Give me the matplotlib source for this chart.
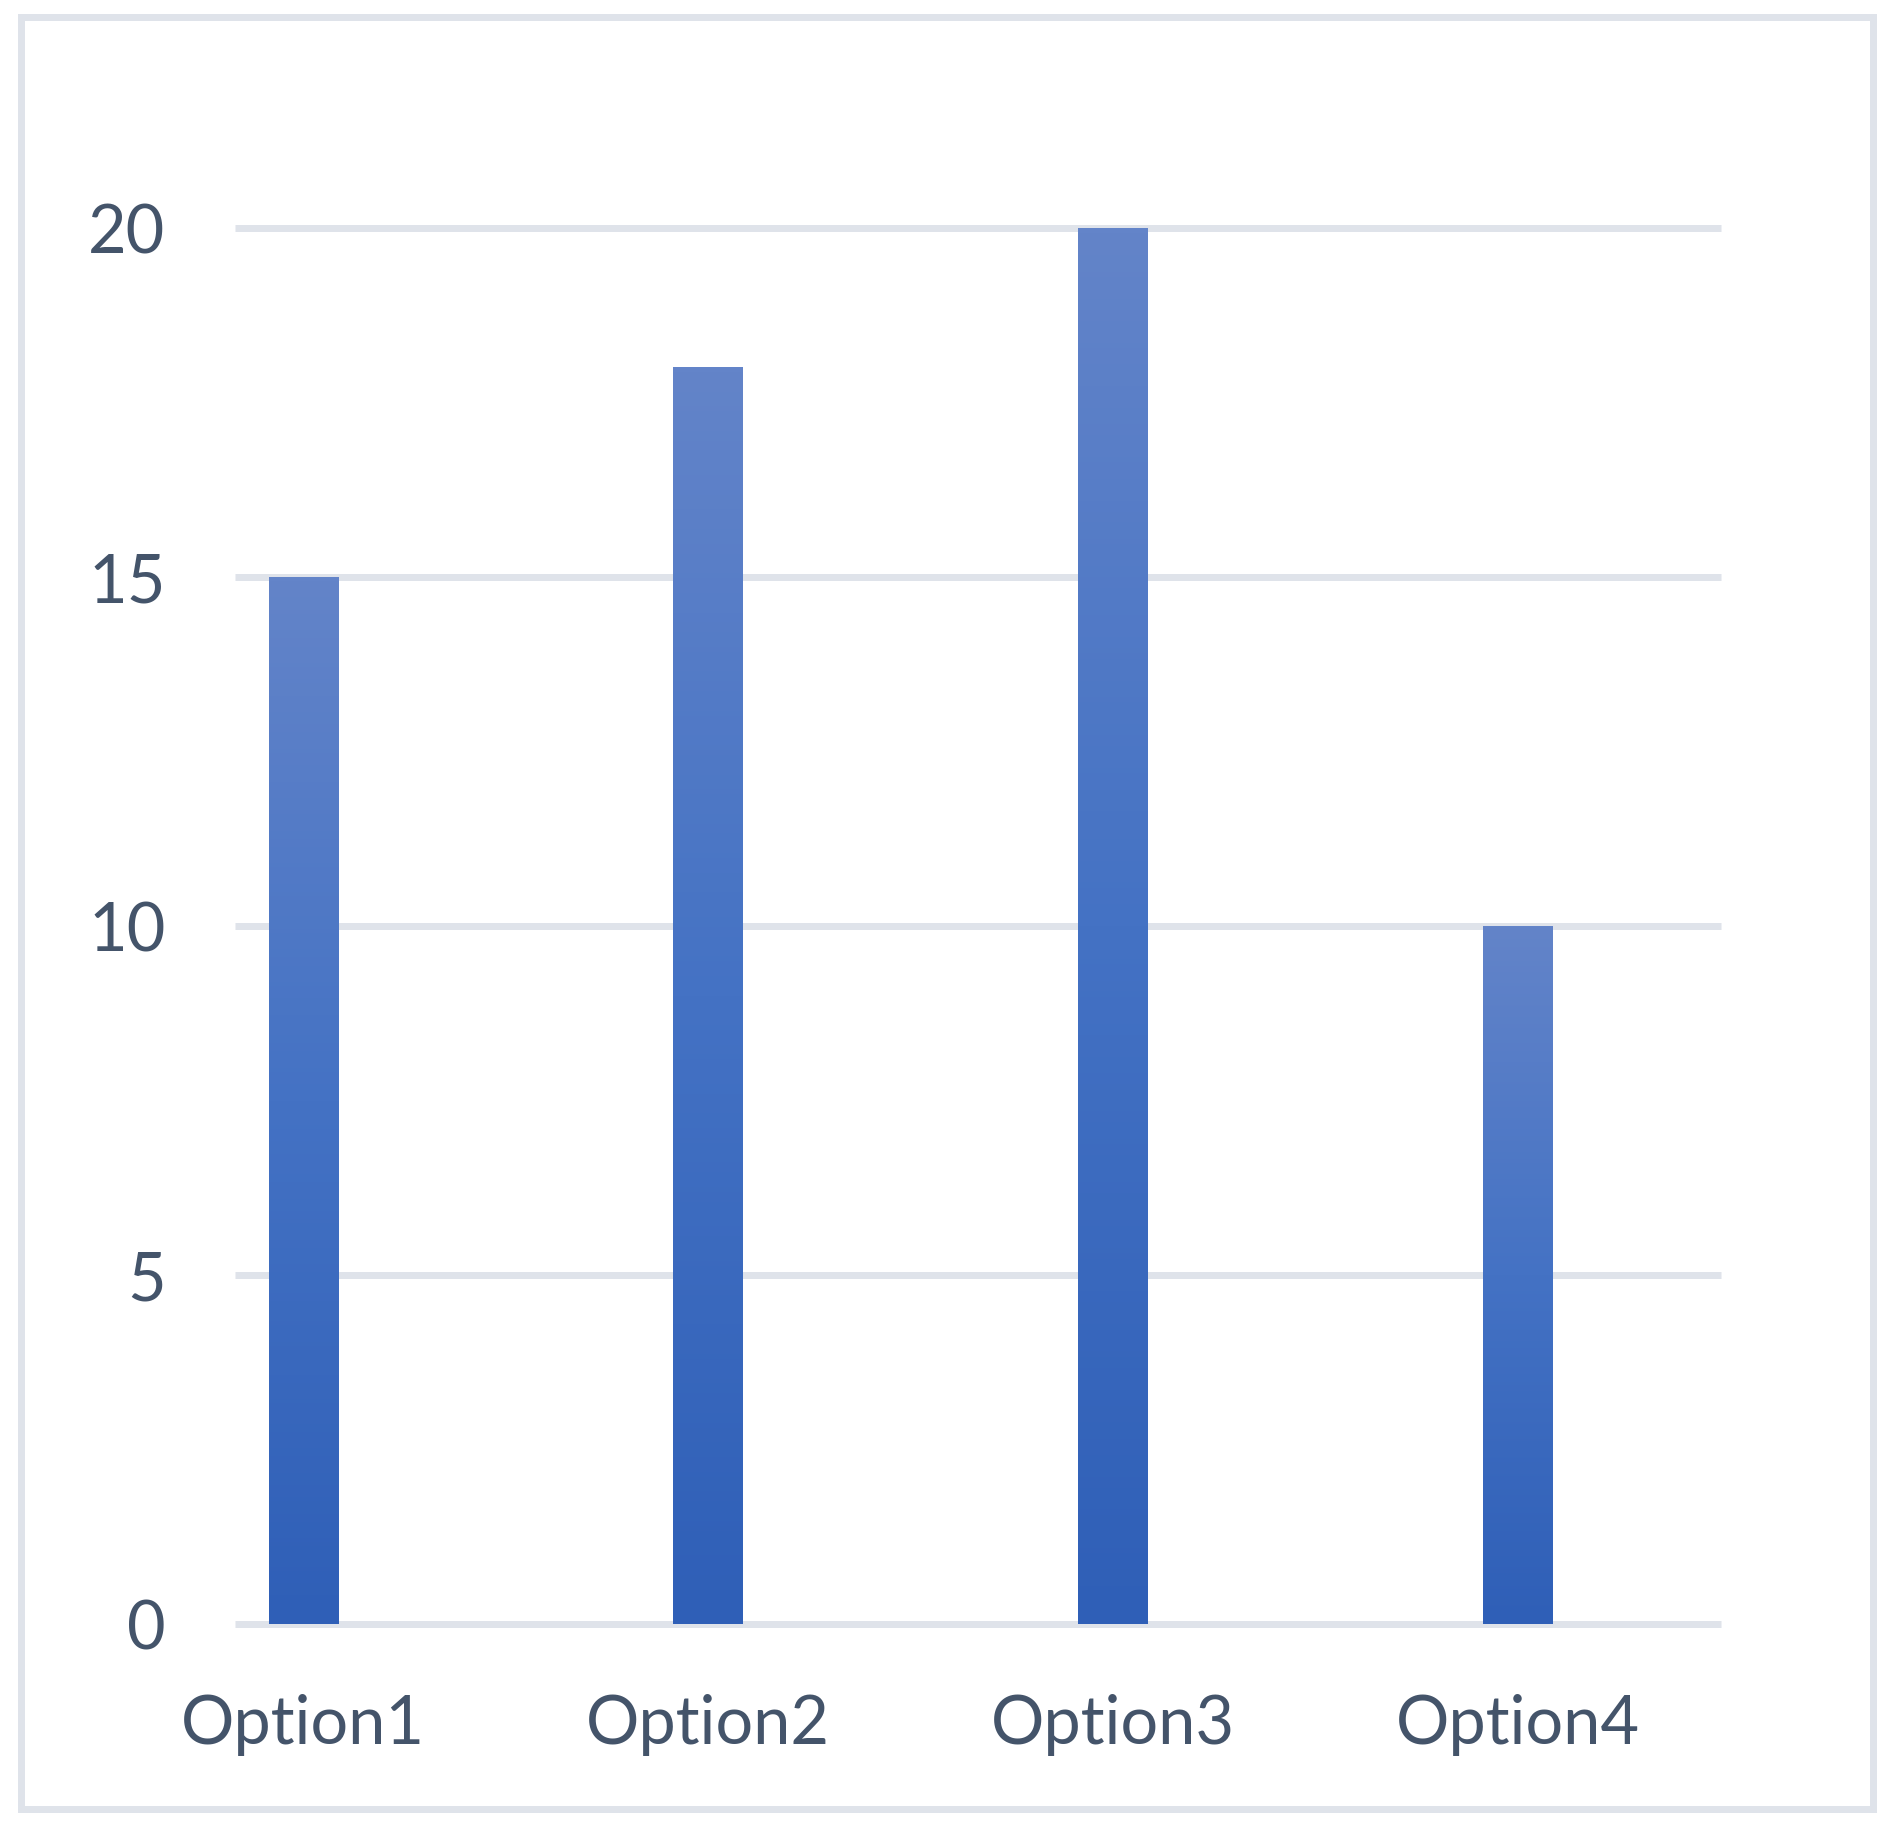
import numpy as np
import matplotlib.pyplot as plt
from matplotlib.colors import LinearSegmentedColormap
from matplotlib.patches import Rectangle

# ========== DATOS ==========
categorias = ["Option1", "Option2", "Option3", "Option4"]
valores = [15, 18, 20, 10]
y_ticks = [0, 5, 10, 15, 20]

color_texto = "#44546a"
color_grid = "#dfe3ea"

plt.rcParams['font.family'] = ['Lato', 'DejaVu Sans']

fig = plt.figure(figsize=(18.88, 18.31), dpi=100)
ax = fig.add_axes([235 / 1888, 1 - 1624.5 / 1831, 1486 / 1888, 1396 / 1831])

# barras con degradado vertical (claro arriba, oscuro abajo)
x = np.arange(len(categorias))
bars = ax.bar(x, valores, width=0.172, color="none", zorder=3)
cmap = LinearSegmentedColormap.from_list("grad", ["#2f5fb7", "#4472c4", "#6384c9"])
grad = np.linspace(0, 1, 256).reshape(-1, 1)
for b in bars:
    x0, y0 = b.get_x(), b.get_y()
    im = ax.imshow(grad, cmap=cmap, origin="lower", aspect="auto",
                   extent=(x0, x0 + b.get_width(), y0, y0 + b.get_height()),
                   zorder=3)
    im.set_clip_path(b)

ax.set_xlim(-0.169, 3.503)
ax.set_ylim(0, 20)
ax.set_xticks(x)
ax.set_xticklabels(categorias)
ax.set_yticks(y_ticks)
ax.tick_params(axis="both", length=0, labelsize=48, labelcolor=color_texto)
ax.tick_params(axis="y", pad=50)
ax.tick_params(axis="x", pad=50)

ax.yaxis.grid(True, color=color_grid, linewidth=5.04, zorder=0)
ax.set_axisbelow(True)
for sp in ax.spines.values():
    sp.set_visible(False)
for gl in ax.get_ygridlines():
    gl.set_clip_on(False)
    gl.set_solid_capstyle("butt")

# marco exterior del gráfico
fig.patches.append(Rectangle((20.5 / 1888, 1 - 1809.5 / 1831), 1852 / 1888, 1792 / 1831,
                             transform=fig.transFigure, fill=False,
                             edgecolor=color_grid, linewidth=5.04))

fig.savefig("out.png", dpi=100)
plt.close()
